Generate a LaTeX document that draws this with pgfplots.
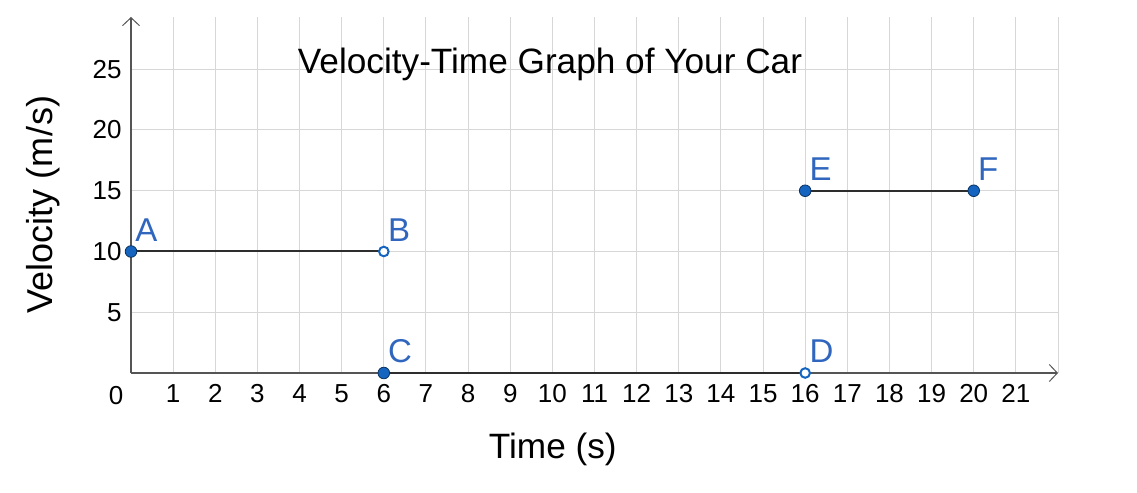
\documentclass[border=0pt]{standalone}
\usepackage{fontspec}
\setmainfont{Liberation Sans}
\usepackage{pgfplots}
\pgfplotsset{compat=1.18}
\usetikzlibrary{arrows.meta}
\definecolor{ptblue}{RGB}{21,101,192}
\definecolor{lblblue}{RGB}{48,102,190}
\definecolor{axisgray}{RGB}{85,85,85}
\definecolor{gridgray}{RGB}{215,215,215}
\definecolor{seggray}{RGB}{45,45,45}
\begin{document}
\begin{tikzpicture}
\begin{axis}[
  scale only axis, width=463.5pt, height=178pt,
  xmin=0, xmax=22, ymin=0, ymax=29.3,
  axis lines=left,
  axis line style={draw=axisgray, line width=0.6pt, -{Straight Barb[length=4pt,width=8.5pt,line width=0.5pt]}},
  xtick={0,...,22},
  xticklabels={,1,2,3,4,5,6,7,8,9,10,11,12,13,14,15,16,17,18,19,20,21,},
  ytick={5,10,15,20,25},
  grid=major, major grid style={gridgray, line width=0.5pt},
  major tick length=0pt,
  tick label style={font=\fontsize{13}{15}\selectfont, /pgf/number format/assume math mode=true},
  xticklabel style={yshift=-1.5pt, text height=9.6pt, text depth=0pt},
  yticklabel style={xshift=-1.2pt},
  clip=false,
]
\addplot[seggray, line width=1pt, mark=none] coordinates {(0,10) (6,10)};
\addplot[seggray, line width=1pt, mark=none] coordinates {(6,0) (16,0)};
\addplot[seggray, line width=1pt, mark=none] coordinates {(16,15) (20,15)};
\addplot[only marks, mark=*, mark size=2.9pt, mark options={fill=ptblue, draw=ptblue!50!black, line width=0.4pt}] coordinates {(0,10) (6,0) (16,15) (20,15)};
\addplot[only marks, mark=*, mark size=2.4pt, mark options={fill=white, draw=ptblue, line width=1pt}] coordinates {(6,10) (16,0)};
\begin{scope}[every node/.style={text=lblblue, font=\fontsize{16.5}{19}\selectfont, anchor=south west, inner sep=0pt, xshift=2pt, yshift=5pt}]
\node at (axis cs:0,10) {A};
\node at (axis cs:6,10) {B};
\node at (axis cs:6,0) {C};
\node at (axis cs:16,0) {D};
\node at (axis cs:16,15) {E};
\node at (axis cs:20,15) {F};
\end{scope}
\node[font=\fontsize{13}{15}\selectfont, anchor=north, inner sep=0pt, text height=9.6pt, text depth=0pt] at ([xshift=-7.5pt,yshift=-5.8pt]axis cs:0,0) {0};
\node[font=\fontsize{17.6}{20}\selectfont] at (rel axis cs:0.452,0.868) {Velocity-Time Graph of Your Car};
\path (rel axis cs:0.455,0) ++(0,-38pt) node[font=\fontsize{17.6}{20}\selectfont] {Time (s)};
\path (rel axis cs:0,0.472) ++(-44pt,0) node[rotate=90, font=\fontsize{18}{20}\selectfont] {Velocity (m\kern0.5pt/\kern0.5pt s)};
\end{axis}
\pgfresetboundingbox
\useasboundingbox ([shift={(-65.5pt,-59.5pt)}]current axis.south west) rectangle ([shift={(39.5pt,8.5pt)}]current axis.north east);
\end{tikzpicture}
\end{document}
